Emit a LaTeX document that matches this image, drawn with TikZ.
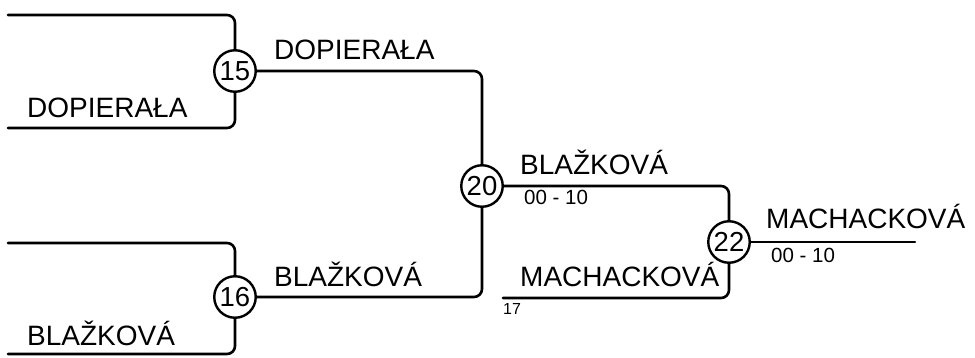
\documentclass[tikz,border=0pt]{standalone}
\usepackage{fontspec}
\setmainfont{Liberation Sans}
\begin{document}
\begin{tikzpicture}[x=1pt,y=-1pt,
  wire/.style={line width=2.6pt,rounded corners=8pt,line cap=round},
  seed/.style={circle,draw,line width=2.4pt,minimum size=41.5pt,inner sep=0pt,fill=white,font=\fontsize{27.5}{30}\selectfont},
  pname/.style={anchor=base west,inner sep=0pt,font=\fontsize{28}{30}\selectfont},
  pscore/.style={anchor=base west,inner sep=0pt,font=\fontsize{20.5}{22}\selectfont},
  psmall/.style={anchor=base west,inner sep=0pt,font=\fontsize{16}{17}\selectfont}]
\useasboundingbox (0,0) rectangle (975,358);
% free ends
\coordinate (a1) at (8,15);
\coordinate (a2) at (8,128);
\coordinate (b1) at (8,243);
\coordinate (b2) at (8,354);
\coordinate (m1) at (503,298);
\coordinate (w) at (915,242);
% match circles
\node[seed] (c15) at (235,71) {15};
\node[seed] (c16) at (235,297) {16};
\node[seed] (c20) at (482,186) {20};
\node[seed] (c22) at (729,242) {22};
% connectors
\draw[wire] (a1) -| (c15.north);
\draw[wire] (a2) -| (c15.south);
\draw[wire] (b1) -| (c16.north);
\draw[wire] (b2) -| (c16.south);
\draw[wire] (c15.east) -| (c20.north);
\draw[wire] (c16.east) -| (c20.south);
\draw[wire] (c20.east) -| (c22.north);
\draw[wire] (m1) -| (c22.south);
\draw[wire] (c22.east) -- (w);
% labels
\node[pname] (t1) at (27,118) {DOPIERAŁA};
\node[pname] (t2) at (274,60) {DOPIERAŁA};
\node[pname] (t3) at (27,345) {BLAŽKOVÁ};
\node[pname] (t4) at (274,287) {BLAŽKOVÁ};
\node[pname] (t5) at (520,175) {BLAŽKOVÁ};
\node[pscore] (s5) at (524,205) {00 - 10};
\node[pname] (t6) at (520,287) {MACHACKOVÁ};
\node[psmall] (s6) at (503,314) {17};
\node[pname] (t7) at (766,229) {MACHACKOVÁ};
\node[pscore] (s7) at (771,262) {00 - 10};
\end{tikzpicture}
\end{document}
